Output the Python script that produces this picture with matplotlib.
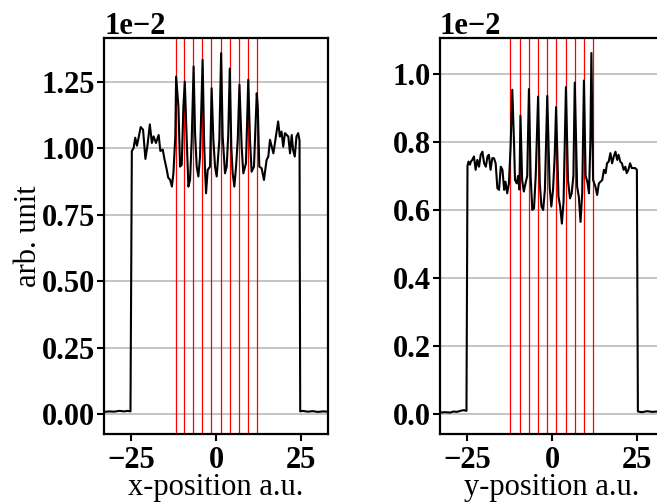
import matplotlib
matplotlib.use('Agg')
import matplotlib.pyplot as plt
import numpy as np

plt.rcParams['font.family'] = ['Liberation Serif', 'DejaVu Serif']
plt.rcParams['font.size'] = 22
plt.rcParams['font.weight'] = 'bold'
plt.rcParams['axes.linewidth'] = 1.6

# profile along x (values in units of 1e-2)
x_pos = [-33, -31.5, -30, -28.5, -27, -26, -25.2, -24.8, -24.3, -23.8, -23.3, -22.8, -22.2,
         -21.5, -20.8, -20.2, -19.5, -18.9, -18.4, -17.7, -16.9, -16.4, -15.7, -15.2, -14.5,
         -14.1, -13.5, -13.0, -12.55, -12.0, -11.75, -11.08, -10.59, -10.10, -9.61, -9.2,
         -8.63, -8.14, -7.65, -7.16, -6.6, -6.18, -5.69, -5.20, -4.71, -3.95, -3.5, -3.2,
         -2.94, -2.45, -1.76, -1.3, -0.78, -0.29, 0.20, 0.98, 1.5, 1.96, 2.65, 3.14, 3.6,
         4.05, 4.5, 4.9, 5.4, 5.9, 6.4, 6.9, 7.55, 8.04, 8.82, 9.5, 10.0, 10.49, 11.18, 12.0,
         12.3, 12.75, 13.43, 14.12, 14.9, 15.4, 15.9, 16.9, 18.3, 18.8, 19.3, 19.8, 20.3,
         21.3, 21.8, 22.3, 22.7, 23.2, 23.7, 24.2, 24.6, 24.8, 25.5, 27, 28.5, 30, 31.5, 33]
x_val = [0.008, 0.010, 0.009, 0.012, 0.010, 0.012, 0.010, 0.99, 1.000, 1.040, 1.010, 1.040, 1.080,
         1.070, 0.960, 1.010, 1.090, 1.020, 1.045, 1.020, 1.050, 0.990, 0.995, 0.960, 0.919,
         0.890, 0.881, 0.856, 0.906, 1.044, 1.270, 1.157, 0.931, 0.938, 1.157, 1.251,
         1.032, 0.856, 0.881, 1.032, 1.308, 1.057, 0.931, 0.894, 0.969, 1.333, 1.019, 0.906,
         0.831, 0.919, 0.931, 1.226, 1.032, 0.931, 0.894, 1.032, 1.358, 1.044, 0.906, 0.931, 1.05,
         1.300, 1.006, 0.906, 0.856, 0.931, 1.032, 1.239, 1.006, 0.906, 0.944, 1.258, 1.032, 0.912,
         0.931, 1.207, 1.157, 0.931, 0.925, 0.881, 0.956, 0.969, 1.032, 0.981, 1.101, 1.044,
         1.063, 1.006, 1.057, 1.044, 0.981, 1.050, 0.994, 0.969, 1.044, 1.057, 1.030, 0.010,
         0.012, 0.009, 0.011, 0.008, 0.010, 0.009]

# profile along y
y_pos = [-33, -31.5, -30, -29, -28, -27, -26, -25.2, -24.9, -24.6, -24.2, -23.9, -23.5, -23.0,
         -22.5, -22.0, -21.5, -21.0, -20.5, -20.0, -19.5, -19.0, -18.6, -18.1, -17.6, -17.1,
         -16.6, -16.1, -15.6, -15.1, -14.6, -14.1, -13.7, -13.2, -12.7, -12.2, -11.7, -11.2,
         -10.9, -10.4, -10.0, -9.6, -9.3, -8.8, -8.3, -7.8, -7.3, -6.8, -6.3, -5.8, -5.3,
         -4.8, -4.1, -3.6, -3.1, -2.6, -2.1, -1.4, -0.7, -0.2, 0.3, 0.8, 1.2, 1.9, 2.4, 2.9,
         3.4, 4.1, 4.7, 5.3, 5.8, 6.3, 6.7, 7.4, 7.9, 8.4, 8.9, 9.4, 9.9, 10.4, 10.9, 11.3,
         11.6, 12.1, 12.8, 13.3, 13.8, 14.8, 15.3, 15.8, 16.2, 16.7, 17.2, 17.7, 18.2, 18.7,
         19.2, 19.6, 20.1, 20.6, 21.1, 21.6, 22.0, 22.5, 23.0, 23.5, 24.5, 25.0, 25.3, 26.5,
         28, 29.5, 31, 33]
y_val = [0.005, 0.006, 0.005, 0.008, 0.007, 0.010, 0.012, 0.010, 0.730, 0.742, 0.733, 0.742,
         0.747, 0.757, 0.718, 0.747, 0.727, 0.762, 0.771, 0.737, 0.727, 0.757, 0.762, 0.718,
         0.752, 0.752, 0.737, 0.664, 0.659, 0.727, 0.718, 0.659, 0.683, 0.649, 0.678, 0.786,
         0.953, 0.800, 0.688, 0.678, 0.700, 0.660, 0.877, 0.688, 0.654, 0.678, 0.700, 0.955,
         0.700, 0.600, 0.605, 0.700, 0.933, 0.678, 0.610, 0.600, 0.659, 0.935, 0.668, 0.610,
         0.659, 0.760, 0.902, 0.640, 0.610, 0.560, 0.624, 0.961, 0.688, 0.634, 0.649, 0.700,
         0.974, 0.668, 0.639, 0.565, 0.649, 0.980, 0.700, 0.683, 0.649, 0.800, 1.061, 0.688,
         0.668, 0.644, 0.678, 0.688, 0.718, 0.708, 0.737, 0.742, 0.767, 0.737, 0.757, 0.771,
         0.747, 0.762, 0.742, 0.737, 0.718, 0.727, 0.708, 0.718, 0.737, 0.723, 0.723, 0.718,
         0.008, 0.006, 0.009, 0.007, 0.008, 0.006]

# marker positions
x_lines = [-11.9, -9.3, -6.7, -4.0, -1.4, 1.5, 4.15, 6.85, 9.5, 12.15]
y_lines = [-12.3, -9.4, -6.8, -4.1, -1.4, 1.2, 4.2, 6.8, 9.4, 12.1]

x_yticks = [0, 0.25, 0.5, 0.75, 1.0, 1.25]
y_yticks = [0, 0.2, 0.4, 0.6, 0.8, 1.0]

fig = plt.figure(figsize=(6.57, 5.04), dpi=100)
ax1 = fig.add_axes([0.1583, 0.1389, 0.341, 0.7857])
ax2 = fig.add_axes([0.6697, 0.1389, 0.341, 0.7857])


def draw(ax, pos, val, lines, yt, ylim, label):
    for l in lines:
        ax.axvline(l, color='red', lw=0.9, zorder=1)
    ax.plot(pos, np.array(val) * 1e-2, color='black', lw=1.5, zorder=3)
    ax.yaxis.grid(True, color='#bfbfbf', lw=1.3, zorder=0)
    ax.set_axisbelow(True)
    ax.set_xlim(-33, 33)
    ax.set_ylim(ylim[0] * 1e-2, ylim[1] * 1e-2)
    ax.set_xticks([-25, 0, 25])
    ax.set_yticks(np.array(yt) * 1e-2)
    ax.ticklabel_format(axis='y', style='sci', scilimits=(0, 0))
    ax.yaxis.get_offset_text().set_fontweight('bold')
    ax.yaxis.get_offset_text().set_fontsize(22)
    ax.tick_params(length=5, width=1.5)
    ax.tick_params(axis='y', pad=1.5)
    ax.set_xlabel(label, fontweight='normal', labelpad=-1)


draw(ax1, x_pos, x_val, x_lines, x_yticks, (-0.075, 1.415), 'x-position a.u.')
draw(ax2, y_pos, y_val, y_lines, y_yticks, (-0.058, 1.105), 'y-position a.u.')
ax1.set_ylabel('arb. unit', fontweight='normal', labelpad=-1)

plt.savefig('out.png', dpi=100)
plt.close()
